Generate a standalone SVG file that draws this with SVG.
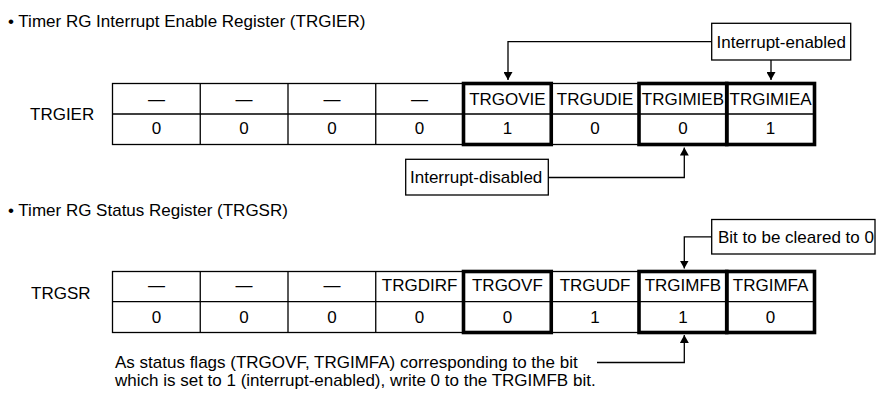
<svg xmlns="http://www.w3.org/2000/svg" width="877" height="394" viewBox="0 0 877 394">
<style>
text{font-family:"Liberation Sans",Arial,sans-serif;font-size:17px;fill:#000}
.c{text-anchor:middle}
.cell{fill:#fff;stroke:#000;stroke-width:1.3}
.thick{fill:none;stroke:#000;stroke-width:3.6}
.box{fill:#fff;stroke:#000;stroke-width:1.3}
.conn{fill:none;stroke:#000;stroke-width:1.3}
</style>
<defs>
<marker id="arr" markerUnits="userSpaceOnUse" markerWidth="8" markerHeight="9" viewBox="0 0 8 9" refX="8" refY="4.5" orient="auto">
<path d="M0,0 L8,4.5 L0,9 Z" fill="#000"/>
</marker>
</defs>
<rect width="877" height="394" fill="#fff"/>

<g id="title1"><text x="8" y="26.5">• Timer RG Interrupt Enable Register (TRGIER)</text></g>
<g id="title2"><text x="8" y="216">• Timer RG Status Register (TRGSR)</text></g>

<g id="label-trgier"><text x="30" y="119.5">TRGIER</text></g>
<g id="label-trgsr"><text x="31" y="298.5">TRGSR</text></g>

<g id="reg-trgier">
<rect class="cell" x="112.5" y="83.5" width="702" height="61"/>
<path class="cell" d="M112.5,114H814.5M200.25,83.5V144.5M288,83.5V144.5M375.75,83.5V144.5M463.5,83.5V144.5M551.25,83.5V144.5M639,83.5V144.5M726.75,83.5V144.5"/>
<rect class="thick" x="463.5" y="83.5" width="87.75" height="61"/>
<rect class="thick" x="639" y="83.5" width="87.75" height="61"/>
<rect class="thick" x="726.75" y="83.5" width="87.75" height="61"/>
<text class="c" x="156.4" y="104.5">—</text>
<text class="c" x="244.1" y="104.5">—</text>
<text class="c" x="331.9" y="104.5">—</text>
<text class="c" x="419.6" y="104.5">—</text>
<text class="c" x="507.4" y="104.5">TRGOVIE</text>
<text class="c" x="595.1" y="104.5">TRGUDIE</text>
<text class="c" x="682.9" y="104.5">TRGIMIEB</text>
<text class="c" x="770.6" y="104.5">TRGIMIEA</text>
<text class="c" x="156.4" y="134">0</text>
<text class="c" x="244.1" y="134">0</text>
<text class="c" x="331.9" y="134">0</text>
<text class="c" x="419.6" y="134">0</text>
<text class="c" x="507.4" y="134">1</text>
<text class="c" x="595.1" y="134">0</text>
<text class="c" x="682.9" y="134">0</text>
<text class="c" x="770.6" y="134">1</text>
</g>

<g id="reg-trgsr">
<rect class="cell" x="112.5" y="271.5" width="702" height="61"/>
<path class="cell" d="M112.5,301.7H814.5M200.25,271.5V332.5M288,271.5V332.5M375.75,271.5V332.5M463.5,271.5V332.5M551.25,271.5V332.5M639,271.5V332.5M726.75,271.5V332.5"/>
<rect class="thick" x="463.5" y="271.5" width="87.75" height="61"/>
<rect class="thick" x="639" y="271.5" width="87.75" height="61"/>
<rect class="thick" x="726.75" y="271.5" width="87.75" height="61"/>
<text class="c" x="156.4" y="291">—</text>
<text class="c" x="244.1" y="291">—</text>
<text class="c" x="331.9" y="291">—</text>
<text class="c" x="419.6" y="291">TRGDIRF</text>
<text class="c" x="507.4" y="291">TRGOVF</text>
<text class="c" x="595.1" y="291">TRGUDF</text>
<text class="c" x="682.9" y="291">TRGIMFB</text>
<text class="c" x="770.6" y="291">TRGIMFA</text>
<text class="c" x="156.4" y="322.5">0</text>
<text class="c" x="244.1" y="322.5">0</text>
<text class="c" x="331.9" y="322.5">0</text>
<text class="c" x="419.6" y="322.5">0</text>
<text class="c" x="507.4" y="322.5">0</text>
<text class="c" x="595.1" y="322.5">1</text>
<text class="c" x="682.9" y="322.5">1</text>
<text class="c" x="770.6" y="322.5">0</text>
</g>

<g id="callout-enabled">
<rect class="box" x="711.7" y="23.3" width="139" height="36.7"/>
<text x="716.5" y="47.5">Interrupt-enabled</text>
</g>
<g id="callout-disabled">
<rect class="box" x="405.7" y="159.3" width="142.6" height="35.7"/>
<text x="410" y="183">Interrupt-disabled</text>
</g>
<g id="callout-clear">
<rect class="box" x="711.7" y="219.5" width="163.3" height="34.5"/>
<text x="718" y="243">Bit to be cleared to 0</text>
</g>
<g id="note">
<text x="115" y="367.5">As status flags (TRGOVF, TRGIMFA) corresponding to the bit</text>
<text x="115" y="385.5">which is set to 1 (interrupt-enabled), write 0 to the TRGIMFB bit.</text>
</g>

<g id="connectors">
<path class="conn" marker-end="url(#arr)" d="M711.7,41.7H508V80"/>
<path class="conn" marker-end="url(#arr)" d="M771,60V80"/>
<path class="conn" marker-end="url(#arr)" d="M548.3,177.5H684.3V147.5"/>
<path class="conn" marker-end="url(#arr)" d="M711.7,236.8H684.3V268.5"/>
<path class="conn" marker-end="url(#arr)" d="M597,362.5H684.3V335"/>
</g>
</svg>
